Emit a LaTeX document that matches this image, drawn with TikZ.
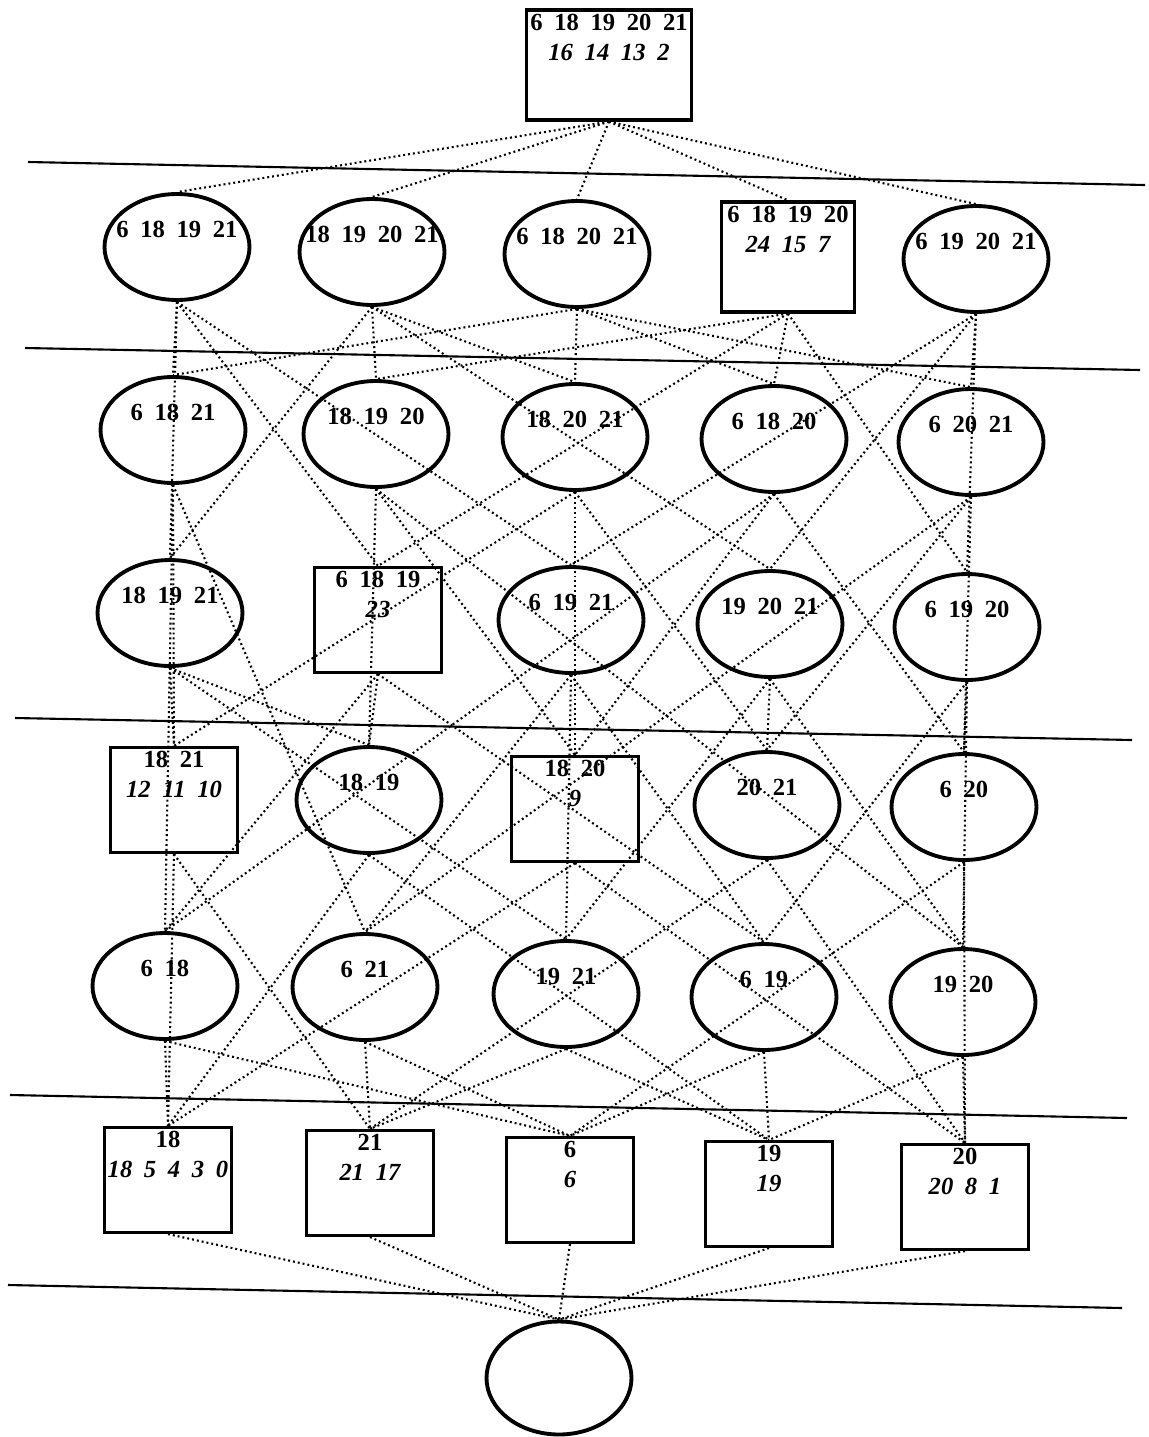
\documentclass[tikz,border=0pt]{standalone}
\usepackage{fontspec}
\setmainfont{Liberation Serif}[WordSpace=1.9]
\usepackage{tikz}
\usetikzlibrary{shapes.geometric}

\tikzset{
  set/.style={ellipse, draw, line width=2.2pt, minimum width=2.9cm, minimum height=2.12cm, inner sep=0pt},
  cell/.style={draw, line width=1.8pt, minimum width=2.54cm, minimum height=2.1cm, inner sep=0pt},
  elems/.style={font=\fontsize{14}{17}\selectfont\bfseries, inner sep=1pt},
  tag/.style={label={[elems, yshift=.36cm]center:#1}},
  tags/.style 2 args={label={[elems, anchor=north, yshift=-2pt, align=center]north:{#1\\\itshape #2}}},
  link/.style={line width=1.2pt, dash pattern=on 1.1pt off 1.7pt},
  rule/.style={line width=1.2pt}
}

\begin{document}
\begin{tikzpicture}[x=0.02cm, y=-0.02cm]
  \useasboundingbox (0,0) rectangle (1149,1437);
  % level separators
  \draw[rule] (28,162) -- (1145,185);
  \draw[rule] (25,348) -- (1140,370);
  \draw[rule] (15,718) -- (1132,740);
  \draw[rule] (10,1095) -- (1127,1118);
  \draw[rule] (8,1285) -- (1122,1308);

  % whole set
  \node[cell, minimum width=3.3cm, minimum height=2.2cm, tags={6 18 19 20 21}{16 14 13 2}] (abcde) at (609,65) {};

  % four elements
  \node[set, tag={6 18 19 21}] (abce) at (177,247) {};
  \node[set, tag={18 19 20 21}] (bcde) at (372,252) {};
  \node[set, tag={6 18 20 21}] (abde) at (577,254) {};
  \node[cell, minimum width=2.66cm, minimum height=2.2cm, tags={6 18 19 20}{24 15 7}] (abcd) at (788,257) {};
  \node[set, tag={6 19 20 21}] (acde) at (976,259) {};

  % three elements
  \node[set, tag={6 18 21}] (abe) at (173,430) {};
  \node[set, tag={18 19 20}] (bcd) at (376,434) {};
  \node[set, tag={18 20 21}] (bde) at (575,437) {};
  \node[set, tag={6 18 20}] (abd) at (774,439) {};
  \node[set, tag={6 20 21}] (ade) at (971,442) {};
  \node[set, tag={18 19 21}] (bce) at (170,613) {};
  \node[cell, tags={6 18 19}{23}] (abc) at (378,620) {};
  \node[set, tag={6 19 21}] (ace) at (571,620) {};
  \node[set, tag={19 20 21}] (cde) at (770,624) {};
  \node[set, tag={6 19 20}] (acd) at (967,627) {};

  % two elements
  \node[cell, tags={18 21}{12 11 10}] (be) at (174,800) {};
  \node[set, tag={18 19}] (bc) at (369,800) {};
  \node[cell, tags={18 20}{9}] (bd) at (575,809) {};
  \node[set, tag={20 21}] (de) at (767,805) {};
  \node[set, tag={6 20}] (ad) at (964,807) {};
  \node[set, tag={6 18}] (ab) at (165,986) {};
  \node[set, tag={6 21}] (ae) at (365,987) {};
  \node[set, tag={19 21}] (ce) at (566,994) {};
  \node[set, tag={6 19}] (ac) at (764,997) {};
  \node[set, tag={19 20}] (cd) at (963,1002) {};

  % one element
  \node[cell, tags={18}{18 5 4 3 0}] (b) at (168,1180) {};
  \node[cell, tags={21}{21 17}] (e) at (370,1183) {};
  \node[cell, tags={6}{6}] (a) at (570,1190) {};
  \node[cell, tags={19}{19}] (c) at (769,1194) {};
  \node[cell, tags={20}{20 8 1}] (d) at (965,1197) {};

  % empty set
  \node[set, minimum height=2.26cm] (o) at (559,1378) {};

  % order relation
  \foreach \u/\l in {abcde/abce, abcde/bcde, abcde/abde, abcde/abcd, abcde/acde,
      abce/bce, abce/ace, abce/abe, abce/abc,
      bcde/cde, bcde/bde, bcde/bce, bcde/bcd,
      abde/bde, abde/ade, abde/abe, abde/abd,
      abcd/bcd, abcd/acd, abcd/abd, abcd/abc,
      acde/cde, acde/ade, acde/ace, acde/acd,
      abe/be, abe/ae, abe/ab, bcd/cd, bcd/bd, bcd/bc,
      bde/de, bde/be, bde/bd, abd/bd, abd/ad, abd/ab,
      ade/de, ade/ae, ade/ad, bce/ce, bce/be, bce/bc,
      abc/bc, abc/ac, abc/ab, ace/ce, ace/ae, ace/ac,
      cde/de, cde/ce, cde/cd, acd/cd, acd/ad, acd/ac,
      be/e, be/b, bc/c, bc/b, bd/d, bd/b, de/e, de/d, ad/d, ad/a,
      ab/b, ab/a, ae/e, ae/a, ce/e, ce/c, ac/c, ac/a, cd/d, cd/c,
      a/o, b/o, c/o, d/o, e/o}
    \draw[link] (\u.south) -- (\l.north);
\end{tikzpicture}
\end{document}
